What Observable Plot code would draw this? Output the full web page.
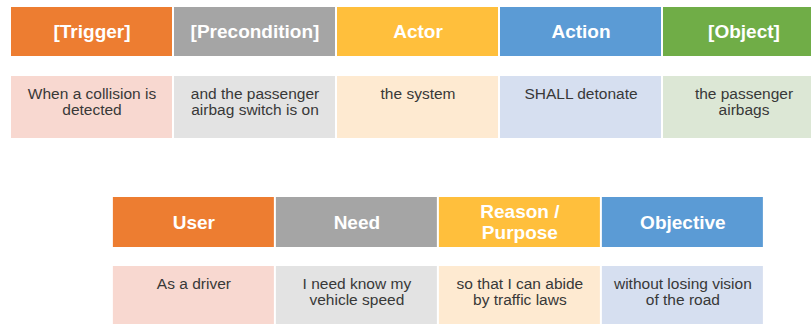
<!DOCTYPE html>
<html><head><meta charset="utf-8">
<script src="https://cdn.jsdelivr.net/npm/d3@7"></script>
<script src="https://cdn.jsdelivr.net/npm/@observablehq/plot@0.6"></script>
<style>html,body{margin:0;padding:0;background:#fff}</style>
</head><body><div id="chart"></div>
<script>
// Content
const requirementFields = ["[Trigger]", "[Precondition]", "Actor", "Action", "[Object]"];
const requirementExample = [
  "When a collision is\ndetected",
  "and the passenger\nairbag switch is on",
  "the system",
  "SHALL detonate",
  "the passenger\nairbags"
];
const storyFields = ["User", "Need", "Reason /\nPurpose", "Objective"];
const storyExample = [
  "As a driver",
  "I need know my\nvehicle speed",
  "so that I can abide\nby traffic laws",
  "without losing vision\nof the road"
];
const headerColors = ["#ED7D31", "#A5A5A5", "#FFBF3C", "#5B9BD5", "#70AD47"];
const bodyColors = ["#F8D8D0", "#E3E3E3", "#FEEAD1", "#D6DFF0", "#DCE7D5"];

// Layout (column units on x, pixel-like units on y)
const groups = [
  {fields: requirementFields, examples: requirementExample, offset: 0, header: [7, 56], body: [76, 138]},
  {fields: storyFields, examples: storyExample, offset: 0.625, header: [197, 247], body: [266, 330]}
];

const headers = [];
const bodies = [];
for (const g of groups) {
  g.fields.forEach((f, i) => {
    headers.push({x1: g.offset + i, x2: g.offset + i + 1, y1: g.header[0], y2: g.header[1], fill: headerColors[i], label: f});
    bodies.push({x1: g.offset + i, x2: g.offset + i + 1, y1: g.body[0], y2: g.body[1], fill: bodyColors[i], label: g.examples[i]});
  });
}

const W = 811, H = 324, step = 163, left = 11;
const chart = Plot.plot({
  width: W,
  height: H,
  margin: 0,
  x: {type: "linear", domain: [-left / step, (W - left) / step], range: [0, W], axis: null},
  y: {type: "linear", domain: [0, H], range: [0, H], axis: null},
  style: {fontFamily: "'Liberation Sans', Arial, sans-serif", background: "#fff"},
  marks: [
    Plot.rect(headers, {x1: "x1", x2: "x2", y1: "y1", y2: "y2", fill: d => d.fill, insetRight: 2}),
    Plot.rect(bodies, {x1: "x1", x2: "x2", y1: "y1", y2: "y2", fill: d => d.fill, insetRight: 2}),
    Plot.text(headers, {
      x: d => (d.x1 + d.x2) / 2, y: d => (d.y1 + d.y2) / 2 - 0.5, text: "label",
      dx: -1, fill: "#fff", fontSize: 19, fontWeight: "bold", lineHeight: 1.1
    }),
    Plot.text(bodies, {
      x: d => (d.x1 + d.x2) / 2, y: d => d.y1 + 11, text: "label",
      dx: -1, fill: "#383838", fontSize: 15.5, lineAnchor: "top", lineHeight: 1.03
    })
  ]
});
document.getElementById("chart").appendChild(chart);
</script>
</body></html>
